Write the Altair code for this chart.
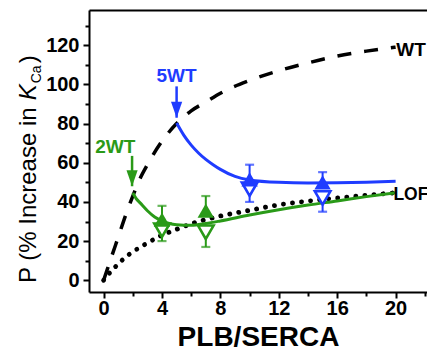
import altair as alt
import pandas as pd

FONT = "Liberation Sans"
BLUE = "#1f3cff"
GREEN = "#2a9a18"

# ---- data ----
wt_x = [0, 0.5, 1, 1.5, 2, 2.5, 3, 4, 5, 6, 7, 8, 10, 12, 14, 16, 18, 20]
wt_y = [0, 11, 22, 33, 43, 52, 59, 71, 80, 86.5, 91, 95.5, 102, 107, 111, 114.5, 117, 119]

lof_x = [0, 0.5, 1, 1.5, 2, 3, 4, 5, 6, 7, 8, 10, 12, 14, 16, 18, 20]
lof_y = [0, 4.5, 8.3, 11.8, 14.5, 19, 23, 26, 28.8, 31, 32.8, 35.7, 38.5, 40.4, 42, 43.4, 44.7]

blue_x = [5, 5.5, 6, 6.5, 7, 7.5, 8, 9, 10, 12, 14, 16, 18, 20]
blue_y = [80.3, 74, 69, 65, 61.7, 59, 56.6, 53, 51.2, 50, 49.7, 49.8, 50.1, 50.6]

green_x = [2, 2.25, 2.5, 3, 3.5, 4, 4.5, 5, 6, 7, 8, 10, 12, 14, 16, 18, 20]
green_y = [44.5, 41.5, 39.5, 35.5, 32.3, 30.3, 29, 28.4, 28.1, 29, 30.3, 33.3, 36, 38.4, 40.5, 42.7, 44.7]

# measured points: filled (up) and open (down) triangles with one-sided error bars
pts_x = [4, 7, 10, 15]
pts_color = ["green", "green", "blue", "blue"]
filled_y = [31, 35.5, 51.5, 50]
filled_hi = [38, 43, 59, 55.2]
open_y = [25.5, 24.5, 46.5, 42]
open_lo = [20, 17, 40, 35]

# annotations
arrow_x = [5, 1.95]
arrow_top = [99, 63.5]
arrow_tip = [83, 48]
arrow_color = ["blue", "green"]
ann_text = ["5WT", "2WT"]
ann_x = [5, 0.8]
ann_y = [104.5, 68]
wt_label = ["WT"]
wt_label_x = [20.05]
wt_label_y = [117.7]
lof_label = ["LOF"]
lof_label_x = [19.85]
lof_label_y = [43.6]

x_major = [0, 4, 8, 12, 16, 20]
x_minor = [2, 6, 10, 14, 18, 22]
y_major = [0, 20, 40, 60, 80, 100, 120]
y_minor = [10, 30, 50, 70, 90, 110, 130]

# ---- scales & axes ----
XS = alt.Scale(domain=[-1, 22.15], nice=False, zero=False)
YS = alt.Scale(domain=[-6, 138], nice=False, zero=False)
cscale = alt.Scale(domain=["blue", "green"], range=[BLUE, GREEN])

ax_x_major = alt.Axis(orient="bottom", values=x_major, title="PLB/SERCA", tickSize=6, tickWidth=2,
                      domainWidth=2, domainColor="black", tickColor="black", labelFont=FONT,
                      labelFontSize=20, labelFontWeight="bold", labelColor="black", labelPadding=0,
                      titleFont=FONT, titleFontSize=28, titleFontWeight="bold", titleColor="black",
                      titlePadding=5, grid=False, labelFlush=False, labelOverlap=False)
ax_x_minor = alt.Axis(orient="bottom", values=x_minor, title=None, labels=False, tickSize=4,
                      tickWidth=2, tickColor="black", domain=False, grid=False)
ax_x_top = alt.Axis(orient="top", values=[0], title=None, labels=False, ticks=False, domain=True,
                    domainWidth=2, domainColor="black", grid=False)
ax_y_major = alt.Axis(orient="left", values=y_major, title=None, tickSize=6, tickWidth=2,
                      domainWidth=2, domainColor="black", tickColor="black", labelFont=FONT,
                      labelFontSize=20, labelFontWeight="bold", labelColor="black", labelPadding=4,
                      grid=False, labelFlush=False, labelOverlap=False)
ax_y_minor = alt.Axis(orient="left", values=y_minor, title=None, labels=False, tickSize=4,
                      tickWidth=2, tickColor="black", domain=False, grid=False)

wt_df = pd.DataFrame({"x": wt_x, "y": wt_y})
lof_df = pd.DataFrame({"x": lof_x, "y": lof_y})
blue_df = pd.DataFrame({"x": blue_x, "y": blue_y})
green_df = pd.DataFrame({"x": green_x, "y": green_y})
pts_df = pd.DataFrame({"x": pts_x, "c": pts_color, "fy": filled_y, "fhi": filled_hi,
                       "oy": open_y, "olo": open_lo})
arrow_df = pd.DataFrame({"x": arrow_x, "top": arrow_top, "tip": arrow_tip, "c": arrow_color,
                         "t": ann_text, "lx": ann_x, "ly": ann_y})
wtl_df = pd.DataFrame({"t": wt_label, "x": wt_label_x, "y": wt_label_y})
lofl_df = pd.DataFrame({"t": lof_label, "x": lof_label_x, "y": lof_label_y})

wt = alt.Chart(wt_df).mark_line(color="black", strokeWidth=3.5, strokeDash=[14, 13],
                                interpolate="monotone").encode(
    x=alt.X("x:Q", scale=XS, axis=ax_x_major), y=alt.Y("y:Q", scale=YS, axis=ax_y_major))
lof = alt.Chart(lof_df).mark_line(color="black", strokeWidth=4.8, strokeDash=[0.1, 9],
                                  strokeCap="round", interpolate="monotone").encode(
    x=alt.X("x:Q", scale=XS, axis=ax_x_minor), y=alt.Y("y:Q", scale=YS, axis=ax_y_minor))
blue = alt.Chart(blue_df).mark_line(color=BLUE, strokeWidth=3, interpolate="monotone").encode(
    x=alt.X("x:Q", scale=XS, axis=ax_x_top), y=alt.Y("y:Q", scale=YS, axis=None))
green = alt.Chart(green_df).mark_line(color=GREEN, strokeWidth=3, interpolate="monotone").encode(
    x=alt.X("x:Q", scale=XS, axis=None), y=alt.Y("y:Q", scale=YS, axis=None))

pbase = alt.Chart(pts_df)
colr = alt.Color("c:N", scale=cscale, legend=None)
err_up = pbase.mark_rule(strokeWidth=2).encode(
    x=alt.X("x:Q", scale=XS, axis=None), y=alt.Y("fy:Q", scale=YS, axis=None), y2="fhi:Q", color=colr)
cap_up = pbase.mark_tick(orient="horizontal", size=9, thickness=2.2).encode(
    x=alt.X("x:Q", scale=XS, axis=None), y=alt.Y("fhi:Q", scale=YS, axis=None), color=colr)
err_dn = pbase.mark_rule(strokeWidth=2).encode(
    x=alt.X("x:Q", scale=XS, axis=None), y=alt.Y("olo:Q", scale=YS, axis=None), y2="oy:Q", color=colr)
cap_dn = pbase.mark_tick(orient="horizontal", size=9, thickness=2.2).encode(
    x=alt.X("x:Q", scale=XS, axis=None), y=alt.Y("olo:Q", scale=YS, axis=None), color=colr)
open_m = pbase.mark_point(shape="triangle-down", size=240, filled=False, fill="white",
                          fillOpacity=1, strokeWidth=2.6, opacity=1).encode(
    x=alt.X("x:Q", scale=XS, axis=None), y=alt.Y("oy:Q", scale=YS, axis=None), color=colr)
filled_m = pbase.mark_point(shape="triangle-up", size=270, filled=True, opacity=1).encode(
    x=alt.X("x:Q", scale=XS, axis=None), y=alt.Y("fy:Q", scale=YS, axis=None), color=colr)

abase = alt.Chart(arrow_df)
shaft = abase.mark_rule(strokeWidth=2.5).encode(
    x=alt.X("x:Q", scale=XS, axis=None), y=alt.Y("top:Q", scale=YS, axis=None), y2="tip:Q", color=colr)
head = abase.mark_point(shape="M-0.7,-2L0.7,-2L0,0Z", size=256, filled=True, opacity=1).encode(
    x=alt.X("x:Q", scale=XS, axis=None), y=alt.Y("tip:Q", scale=YS, axis=None), color=colr)
ann = abase.mark_text(font=FONT, fontSize=19, fontWeight="bold", align="center",
                      baseline="middle").encode(
    x=alt.X("lx:Q", scale=XS, axis=None), y=alt.Y("ly:Q", scale=YS, axis=None), text="t:N", color=colr)
wtl = alt.Chart(wtl_df).mark_text(font=FONT, fontSize=19, fontWeight="bold", align="left",
                                  baseline="middle", color="black").encode(
    x=alt.X("x:Q", scale=XS, axis=None), y=alt.Y("y:Q", scale=YS, axis=None), text="t:N")
lofl = alt.Chart(lofl_df).mark_text(font=FONT, fontSize=17.5, fontWeight="bold", align="left",
                                    baseline="middle", color="black").encode(
    x=alt.X("x:Q", scale=XS, axis=None), y=alt.Y("y:Q", scale=YS, axis=None), text="t:N")

# y-axis title built from pieces (italic K, subscript Ca)
TS = 24
one = pd.DataFrame({"k": [0]})
ybase = 273
bx = -53
p1 = "P (% Increase in "
t1 = alt.Chart(one).mark_text(font=FONT, fontSize=TS, angle=270, align="left", baseline="alphabetic",
                              color="black").encode(x=alt.value(bx), y=alt.value(ybase), text=alt.value(p1))
ky = ybase - 7.614 * TS
t2 = alt.Chart(one).mark_text(font=FONT, fontSize=TS, fontStyle="italic", angle=270, align="left",
                              baseline="alphabetic", color="black").encode(
    x=alt.value(bx), y=alt.value(ky), text=alt.value("K"))
cy = ky - 0.667 * TS - 1
t3 = alt.Chart(one).mark_text(font=FONT, fontSize=14, angle=270, align="left", baseline="alphabetic",
                              color="black").encode(x=alt.value(bx + 5), y=alt.value(cy), text=alt.value("Ca"))
ry = cy - 1.278 * 14 - 2
t4 = alt.Chart(one).mark_text(font=FONT, fontSize=TS, angle=270, align="left", baseline="alphabetic",
                              color="black").encode(x=alt.value(bx), y=alt.value(ry), text=alt.value(")"))

chart = alt.layer(
    wt, lof, blue, green, err_up, cap_up, err_dn, cap_dn, open_m, filled_m,
    shaft, head, ann, wtl, lofl, t1, t2, t3, t4
).resolve_axis(x="independent", y="independent").properties(
    width=338, height=282,
    padding={"left": 81, "top": 2, "right": 0, "bottom": 58},
    autosize=alt.AutoSizeParams(type="none"),
).configure_view(stroke=None)

chart.save("out.html", embed_options={"renderer": "svg", "actions": False})
